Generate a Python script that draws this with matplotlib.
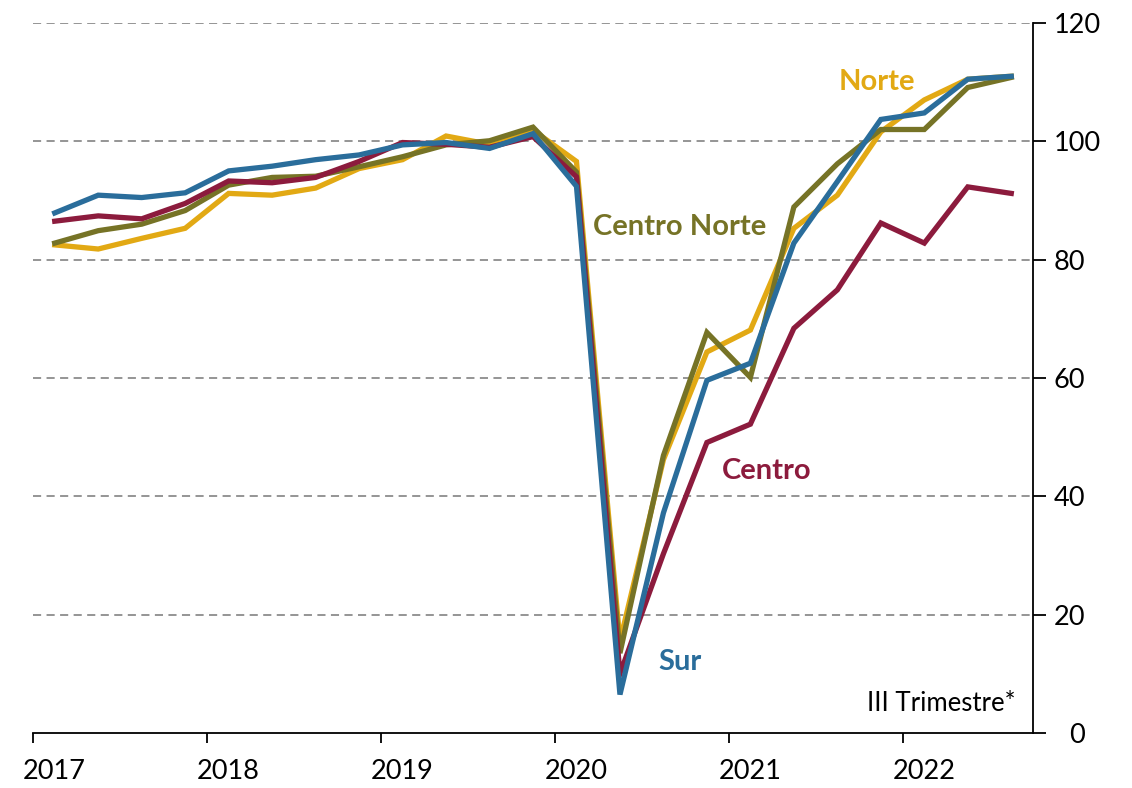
import matplotlib
matplotlib.use("Agg")
import matplotlib.pyplot as plt
import matplotlib.transforms as mtransforms
import numpy as np

plt.rcParams['font.family'] = ['Lato', 'DejaVu Sans']

# Quarterly index, 2017Q1 .. 2022Q3
quarters = [f"{y}Q{q}" for y in range(2017, 2023) for q in range(1, 5)][:23]
norte = [82.5, 81.8, 83.6, 85.3, 91.2, 90.9, 92.1, 95.4, 96.9, 100.9, 99.5, 101.9,
         96.6, 15.5, 46.2, 64.4, 68.1, 85.3, 90.9, 101.6, 107.0, 110.5, 111.0]
centro_norte = [82.8, 84.9, 86.0, 88.3, 92.6, 93.9, 94.1, 95.7, 97.4, 99.4, 100.1, 102.4,
                94.8, 13.5, 46.9, 67.7, 60.1, 88.9, 96.2, 102.0, 102.0, 109.1, 110.8]
centro = [86.5, 87.4, 86.9, 89.5, 93.3, 93.0, 93.9, 96.6, 99.8, 99.5, 99.0, 100.8,
          94.0, 10.0, 30.3, 49.1, 52.2, 68.4, 74.9, 86.2, 82.8, 92.3, 91.2]
sur = [87.9, 90.9, 90.5, 91.3, 95.0, 95.8, 96.9, 97.7, 99.4, 99.8, 98.8, 101.3,
       92.4, 6.5, 37.2, 59.6, 62.5, 82.8, 93.2, 103.7, 104.8, 110.5, 111.0]
years = [2017, 2018, 2019, 2020, 2021, 2022]
yticks = [0, 20, 40, 60, 80, 100, 120]

# position of quarters on a continuous year axis (mid-quarter)
xpos = np.array([int(q[:4]) + (int(q[-1]) - 1) * 0.25 + 0.125 for q in quarters])

fig = plt.figure(figsize=(11.32, 7.88), dpi=100)
ax = fig.add_axes([33/1132, 1 - 733/788, 1000/1132, 710/788])

c_norte = '#E2A914'
c_cn = '#767326'
c_centro = '#8C1B3D'
c_sur = '#2A6D9B'
lw = 3.8
ax.plot(xpos, norte, color=c_norte, lw=lw, solid_joinstyle='miter', zorder=3)
ax.plot(xpos, centro_norte, color=c_cn, lw=lw, solid_joinstyle='miter', zorder=4)
ax.plot(xpos, centro, color=c_centro, lw=lw, solid_joinstyle='miter', zorder=5)
ax.plot(xpos, sur, color=c_sur, lw=lw, solid_joinstyle='miter', zorder=6)

ax.set_xlim(2017, 2022.75)
ax.set_ylim(0, 120)
# major ticks at year boundaries (marks only), labels centered on first quarter
ax.set_xticks(years)
ax.set_xticklabels([])
ax.set_xticks([y + 0.125 for y in years], minor=True)
ax.set_xticklabels([str(y) for y in years], minor=True)
ax.set_yticks(yticks)
ax.yaxis.tick_right()
for y in yticks[1:]:
    ax.axhline(y, color='#8C8C8C', lw=1.3, ls=(0, (4.5, 3)), zorder=1)

for s in ['top', 'left']:
    ax.spines[s].set_visible(False)
ax.spines['right'].set_linewidth(1.3)
ax.spines['bottom'].set_linewidth(1.3)
ax.tick_params(axis='x', which='major', direction='out', length=7, width=1.3)
ax.tick_params(axis='x', which='minor', length=0, labelsize=19.5, pad=19)
ax.tick_params(axis='y', direction='out', length=9, width=1.3, labelsize=19.5, pad=6)

# Excel-style: the "0" label sits further right
ylabs = ax.get_yticklabels()
ylabs[0].set_transform(ylabs[0].get_transform() +
                       mtransforms.ScaledTranslation(15/100, 0, fig.dpi_scale_trans))

tfs = 21
ax.text(2021.85, 110.0, 'Norte', color=c_norte, fontsize=tfs, fontweight='bold', va='center', ha='center')
ax.text(2020.72, 85.5, 'Centro Norte', color=c_cn, fontsize=tfs, fontweight='bold', va='center', ha='center')
ax.text(2021.22, 44.2, 'Centro', color=c_centro, fontsize=tfs, fontweight='bold', va='center', ha='center')
ax.text(2020.72, 12.0, 'Sur', color=c_sur, fontsize=tfs, fontweight='bold', va='center', ha='center')
ax.text(2022.65, 5.0, 'III Trimestre*', color='black', fontsize=18.5, va='center', ha='right')

fig.savefig('out.png', dpi=100)
